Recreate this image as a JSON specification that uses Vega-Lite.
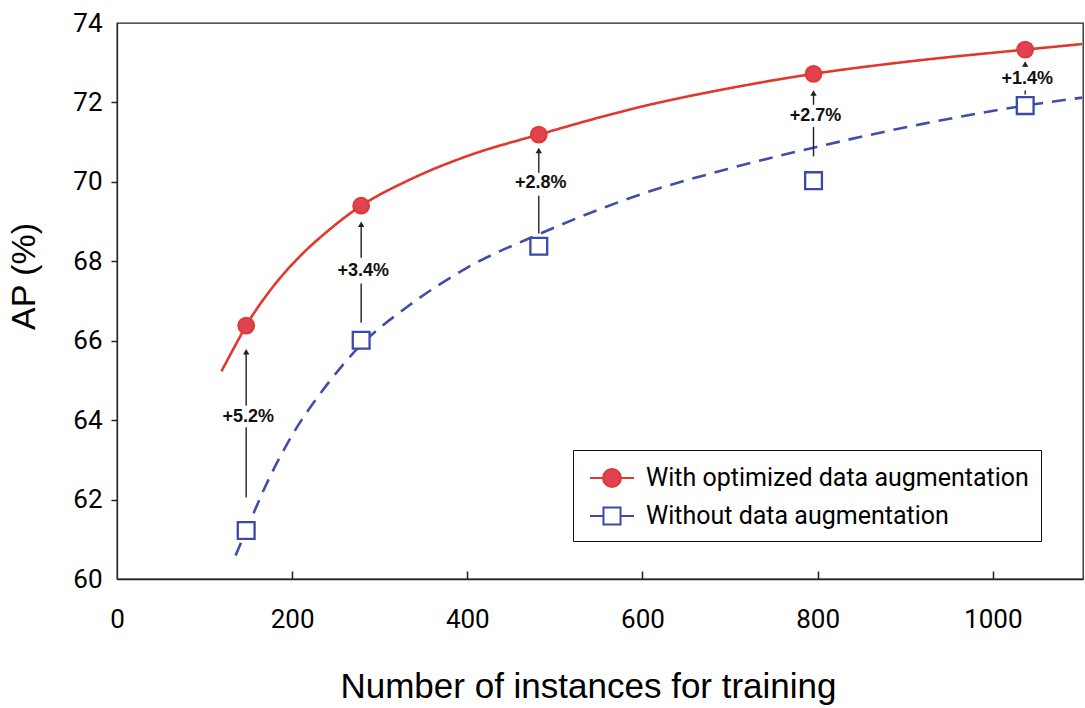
{
  "$schema": "https://vega.github.io/schema/vega-lite/v6.json",
  "width": 966,
  "height": 556,
  "autosize": {"type": "none"},
  "padding": {"left": 117, "top": 23, "right": 2, "bottom": 129},
  "background": "white",
  "config": {
    "view": {"stroke": "#222", "strokeWidth": 1.3},
    "axis": {"grid": false, "domainColor": "#222", "domainWidth": 1.3, "tickColor": "#222", "tickWidth": 1.5, "labelColor": "black", "titleColor": "black", "titleFontWeight": "normal"},
    "legend": {
      "direction": "vertical", "strokeColor": "#111", "padding": 12, "symbolOffset": 11,
      "labelFont": "Roboto", "labelFontSize": 25, "labelColor": "black", "labelLimit": 600,
      "symbolSize": 864, "symbolStrokeWidth": 2, "symbolOpacity": 1, "labelOffset": 18, "rowPadding": 9
    }
  },
  "datasets": {
    "curves": [
      {"series": "With optimized data augmentation", "x": 119.3, "y": 65.23},
      {"series": "With optimized data augmentation", "x": 135, "y": 65.88},
      {"series": "With optimized data augmentation", "x": 147.5, "y": 66.38},
      {"series": "With optimized data augmentation", "x": 175, "y": 67.27},
      {"series": "With optimized data augmentation", "x": 210, "y": 68.15},
      {"series": "With optimized data augmentation", "x": 240, "y": 68.75},
      {"series": "With optimized data augmentation", "x": 278.8, "y": 69.4},
      {"series": "With optimized data augmentation", "x": 330, "y": 70.01},
      {"series": "With optimized data augmentation", "x": 400, "y": 70.65},
      {"series": "With optimized data augmentation", "x": 481.6, "y": 71.19},
      {"series": "With optimized data augmentation", "x": 600, "y": 71.9},
      {"series": "With optimized data augmentation", "x": 700, "y": 72.36},
      {"series": "With optimized data augmentation", "x": 795.3, "y": 72.72},
      {"series": "With optimized data augmentation", "x": 900, "y": 73.02},
      {"series": "With optimized data augmentation", "x": 1037, "y": 73.33},
      {"series": "With optimized data augmentation", "x": 1102, "y": 73.47},
      {"series": "Without data augmentation", "x": 135.3, "y": 60.59},
      {"series": "Without data augmentation", "x": 147.5, "y": 61.22},
      {"series": "Without data augmentation", "x": 170, "y": 62.36},
      {"series": "Without data augmentation", "x": 200, "y": 63.62},
      {"series": "Without data augmentation", "x": 240, "y": 64.9},
      {"series": "Without data augmentation", "x": 278.8, "y": 65.9},
      {"series": "Without data augmentation", "x": 330, "y": 66.83},
      {"series": "Without data augmentation", "x": 400, "y": 67.84},
      {"series": "Without data augmentation", "x": 481.6, "y": 68.68},
      {"series": "Without data augmentation", "x": 600, "y": 69.7},
      {"series": "Without data augmentation", "x": 700, "y": 70.34},
      {"series": "Without data augmentation", "x": 795.3, "y": 70.86},
      {"series": "Without data augmentation", "x": 920, "y": 71.46},
      {"series": "Without data augmentation", "x": 1037, "y": 71.92},
      {"series": "Without data augmentation", "x": 1102, "y": 72.12}
    ],
    "points": [
      {"series": "With optimized data augmentation", "x": 147.5, "y": 66.38},
      {"series": "With optimized data augmentation", "x": 278.8, "y": 69.4},
      {"series": "With optimized data augmentation", "x": 481.6, "y": 71.19},
      {"series": "With optimized data augmentation", "x": 795.3, "y": 72.72},
      {"series": "With optimized data augmentation", "x": 1037, "y": 73.33},
      {"series": "Without data augmentation", "x": 147.5, "y": 61.22},
      {"series": "Without data augmentation", "x": 278.8, "y": 66.01},
      {"series": "Without data augmentation", "x": 481.6, "y": 68.38},
      {"series": "Without data augmentation", "x": 795.3, "y": 70.03},
      {"series": "Without data augmentation", "x": 1037, "y": 71.92}
    ],
    "segments": [
      {"x": 147.5, "y": 62.05, "y2": 63.82},
      {"x": 147.5, "y": 64.37, "y2": 65.72},
      {"x": 278.8, "y": 66.45, "y2": 67.44},
      {"x": 278.8, "y": 68.09, "y2": 68.93},
      {"x": 481.6, "y": 68.7, "y2": 69.65},
      {"x": 481.6, "y": 70.23, "y2": 70.79},
      {"x": 795.3, "y": 70.64, "y2": 71.38},
      {"x": 795.3, "y": 71.94, "y2": 72.24},
      {"x": 1037, "y": 72.2, "y2": 72.3},
      {"x": 1037, "y": 72.9, "y2": 72.97}
    ],
    "heads": [
      {"x": 147.5, "y": 65.72},
      {"x": 278.8, "y": 68.93},
      {"x": 481.6, "y": 70.79},
      {"x": 795.3, "y": 72.24},
      {"x": 1037, "y": 72.97}
    ],
    "labels": [
      {"x": 147.5, "y": 64.07, "label": "+5.2%"},
      {"x": 278.8, "y": 67.75, "label": "+3.4%"},
      {"x": 481.6, "y": 69.96, "label": "+2.8%"},
      {"x": 795.3, "y": 71.67, "label": "+2.7%"},
      {"x": 1037, "y": 72.59, "label": "+1.4%"}
    ]
  },
  "layer": [
    {
      "data": {"name": "curves"},
      "mark": {"type": "line", "interpolate": "monotone", "strokeWidth": 2.6},
      "encoding": {
        "x": {
          "field": "x", "type": "quantitative",
          "scale": {"domain": [0, 1103], "nice": false, "zero": false},
          "axis": {
            "values": [0, 200, 400, 600, 800, 1000], "format": "d",
            "title": "Number of instances for training",
            "titleFont": "Liberation Sans", "titleFontSize": 35,
            "titleX": 471, "titleY": 118, "titleBaseline": "alphabetic", "titleAlign": "center",
            "labelFont": "Roboto", "labelFontSize": 26, "labelBaseline": "middle",
            "labelPadding": 48, "tickSize": -8, "labelFlush": false,
            "tickOpacity": {"condition": {"test": "datum.value == 0", "value": 0}, "value": 1}
          }
        },
        "y": {
          "field": "y", "type": "quantitative",
          "scale": {"domain": [60, 74], "nice": false, "zero": false},
          "axis": {
            "values": [60, 62, 64, 66, 68, 70, 72, 74],
            "title": "AP (%)",
            "titleFont": "Liberation Sans", "titleFontSize": 34,
            "titleX": -93, "titleY": 253, "titleAngle": -90, "titleAlign": "center", "titleBaseline": "middle",
            "labelFont": "Roboto", "labelFontSize": 26, "labelPadding": 9, "tickSize": 6,
            "tickOpacity": {"condition": {"test": "datum.value == 60 || datum.value == 74", "value": 0}, "value": 1}
          }
        },
        "color": {
          "field": "series", "type": "nominal",
          "scale": {"range": ["#E0382C", "#3F4FA8"]},
          "legend": null
        },
        "strokeDash": {
          "field": "series", "type": "nominal",
          "scale": {"range": [[1, 0], [14, 9]]},
          "legend": null
        }
      }
    },
    {
      "data": {"name": "segments"},
      "mark": {"type": "rule", "color": "#222", "strokeWidth": 1.4},
      "encoding": {
        "x": {"field": "x", "type": "quantitative"},
        "y": {"field": "y", "type": "quantitative"},
        "y2": {"field": "y2"}
      }
    },
    {
      "data": {"name": "heads"},
      "mark": {"type": "point", "shape": "triangle-up", "filled": true, "color": "#222", "size": 40, "opacity": 1},
      "encoding": {
        "x": {"field": "x", "type": "quantitative"},
        "y": {"field": "y", "type": "quantitative"}
      }
    },
    {
      "data": {"name": "labels"},
      "mark": {"type": "text", "font": "Liberation Sans", "fontSize": 18, "fontWeight": "bold", "color": "#111", "baseline": "middle", "align": "center", "dx": 2},
      "encoding": {
        "x": {"field": "x", "type": "quantitative"},
        "y": {"field": "y", "type": "quantitative"},
        "text": {"field": "label"}
      }
    },
    {
      "data": {"name": "points"},
      "transform": [{"filter": "datum.series === 'With optimized data augmentation'"}],
      "mark": {"type": "point", "shape": "circle", "filled": false, "size": 250, "strokeWidth": 2, "opacity": 1},
      "encoding": {
        "x": {"field": "x", "type": "quantitative"},
        "y": {"field": "y", "type": "quantitative"},
        "fill": {
          "field": "series", "type": "nominal",
          "scale": {"domain": ["With optimized data augmentation", "Without data augmentation"], "range": ["#E2424F", "#ffffff"]},
          "legend": {"title": null}
        },
        "stroke": {
          "field": "series", "type": "nominal",
          "scale": {"domain": ["With optimized data augmentation", "Without data augmentation"], "range": ["#DC3A32", "#3A4AA6"]},
          "legend": {"title": null}
        }
      }
    },
    {
      "data": {"name": "points"},
      "transform": [{"filter": "datum.series === 'Without data augmentation'"}],
      "mark": {"type": "point", "shape": "square", "filled": false, "size": 282, "strokeWidth": 2.3, "opacity": 1},
      "encoding": {
        "x": {"field": "x", "type": "quantitative"},
        "y": {"field": "y", "type": "quantitative"},
        "fill": {"field": "series", "type": "nominal", "legend": {"title": null}},
        "stroke": {"field": "series", "type": "nominal", "legend": {"title": null}}
      }
    },
    {
      "data": {"name": "points"},
      "transform": [{"filter": "datum.x < 0"}],
      "mark": {"type": "point", "filled": false, "opacity": 1},
      "encoding": {
        "x": {"field": "x", "type": "quantitative"},
        "y": {"field": "y", "type": "quantitative"},
        "shape": {
          "field": "series", "type": "nominal",
          "scale": {"domain": ["With optimized data augmentation", "Without data augmentation"], "range": ["M-1.5,0L-0.61,0M0.61,0L1.5,0M0.61,0A0.61,0.61,0,1,1,-0.61,0A0.61,0.61,0,1,1,0.61,0Z", "M-1.5,0L-0.58,0M0.58,0L1.5,0M-0.58,-0.58L0.58,-0.58L0.58,0.58L-0.58,0.58Z"]},
          "legend": {"title": null, "orient": "none", "legendX": 456, "legendY": 427}
        }
      }
    }
  ]
}
